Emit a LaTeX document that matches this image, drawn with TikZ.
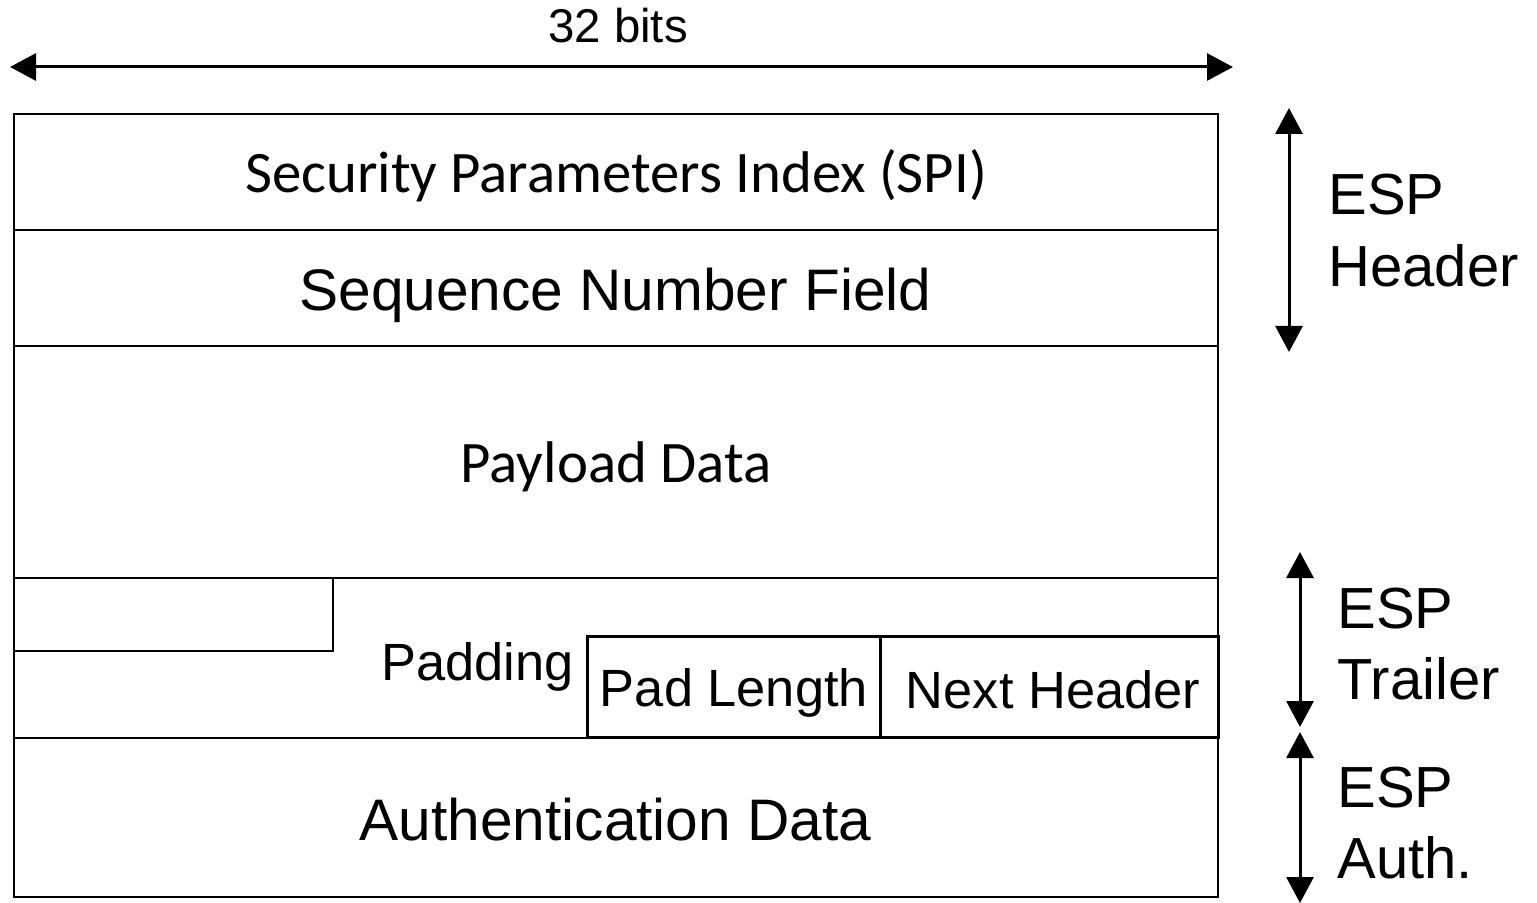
\documentclass[tikz,border=0pt]{standalone}
\usepackage{fontspec}
\setmainfont{Liberation Sans}
\newfontfamily\calfont{Carlito}
\usetikzlibrary{arrows.meta}
\begin{document}
\begin{tikzpicture}[x=0.5pt,y=-0.5pt,
  rowbox/.style={draw, line width=1pt, inner sep=0pt, outer sep=0pt, anchor=north west, minimum width=602pt},
  subbox/.style={draw, line width=1.5pt, inner sep=0pt, outer sep=0pt, anchor=north west, minimum height=50.5pt},
  bigtxt/.style={font=\fontsize{29.3}{34}\selectfont, anchor=base, inner sep=0pt},
  caltxt/.style={font=\calfont\fontsize{29.4}{34}\selectfont, anchor=base, inner sep=0pt},
  midtxt/.style={font=\fontsize{26.2}{30}\selectfont, anchor=base, inner sep=0pt},
  sidetxt/.style={font=\fontsize{29}{34}\selectfont, anchor=base west, inner sep=0pt},
  dimarrow/.style={line width=1.5pt, {Triangle[length=13pt,width=13.5pt]}-{Triangle[length=13pt,width=13.5pt]}}]
\useasboundingbox (0,0) rectangle (1537,903);
\fill[white] (0,0) rectangle (1537,903);
% rows
\node[rowbox, minimum height=58pt] (spi) at (14,114) {};
\node[rowbox, minimum height=58pt] (seq) at (14,230) {};
\node[rowbox, minimum height=116pt] (pay) at (14,346) {};
\node[rowbox, minimum height=80pt] (pad) at (14,578) {};
\node[rowbox, minimum height=79.5pt] (auth) at (14,738) {};
% padding sub boxes
\node[draw, line width=1pt, inner sep=0pt, outer sep=0pt, anchor=north west, minimum width=159.5pt, minimum height=36.5pt] (padblk) at (14,578) {};
\node[subbox, minimum width=146.5pt] (plen) at (587,636) {};
\node[subbox, minimum width=169pt] (nhdr) at (880,636) {};
% texts
\node[caltxt] (tspi) at (616,193) {Security Parameters Index (SPI)};
\node[bigtxt] (tseq) at (615.5,311) {Sequence Number Field};
\node[caltxt] (tpay) at (616,482) {Payload Data};
\node[midtxt, anchor=base east] (tpad) at (574,680) {Padding};
\node[midtxt] (tplen) at (734,706) {Pad Length};
\node[midtxt] (tnhdr) at (1053,708) {Next Header};
\node[bigtxt] (tauth) at (615.5,840) {Authentication Data};
% top dimension
\coordinate (tl) at (10,67);
\coordinate (tr) at (1233,67);
\draw[dimarrow] (tl) -- (tr);
\node[font=\fontsize{23.7}{28}\selectfont, anchor=base, inner sep=0pt] (bits) at (618,43) {32 bits};
% side dimensions
\coordinate (h1) at (1289,108);
\coordinate (h2) at (1289,352);
\draw[dimarrow] (h1) -- (h2);
\node[sidetxt] (eh1) at (1328,215) {ESP};
\node[sidetxt] (eh2) at (1328,287) {Header};
\coordinate (t1) at (1300,552);
\coordinate (t2) at (1300,727);
\draw[dimarrow] (t1) -- (t2);
\node[sidetxt] (et1) at (1337,628) {ESP};
\node[sidetxt] (et2) at (1337,699) {Trailer};
\coordinate (a1) at (1300,732);
\coordinate (a2) at (1300,903);
\draw[dimarrow] (a1) -- (a2);
\node[sidetxt] (ea1) at (1337,807) {ESP};
\node[sidetxt] (ea2) at (1337,878) {Auth.};
\end{tikzpicture}
\end{document}
